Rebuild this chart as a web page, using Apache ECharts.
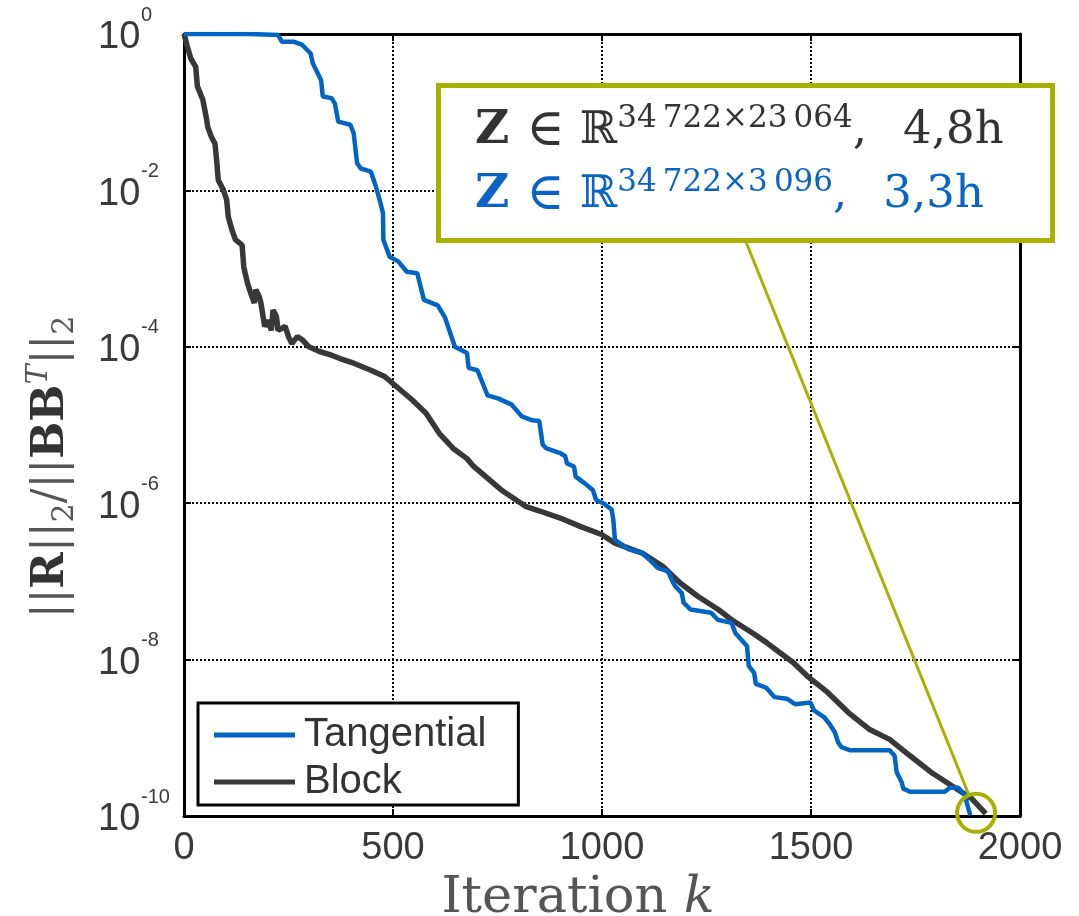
<!DOCTYPE html>
<html>
<head>
<meta charset="utf-8">
<title>Residual norm vs iteration</title>
<script src="https://cdn.jsdelivr.net/npm/echarts@6/dist/echarts.min.js"></script>
<style>
  html, body { margin: 0; padding: 0; background: #fff; }
  #main { width: 1079px; height: 916px; }
</style>
</head>
<body>
<div id="main"></div>
<script>
// iteration k, log10 of ||R||_2/||BB^T||_2
var tangentialIter = [0, 156, 158, 225, 234, 262, 283, 303, 308, 328, 332, 353, 361, 369, 398, 406, 414, 423, 447, 459,
  468, 476, 477, 492, 513, 533, 558, 574, 607, 624, 648, 677, 681, 702, 726, 751, 784, 808, 833, 850,
  858, 867, 900, 912, 916, 933, 937, 957, 978, 986, 1003, 1023, 1027, 1031, 1064, 1097, 1113, 1134, 1158, 1167,
  1175, 1191, 1195, 1212, 1261, 1277, 1310, 1319, 1347, 1351, 1364, 1368, 1393, 1413, 1442, 1462, 1499, 1507, 1532, 1544,
  1557, 1565, 1573, 1594, 1688, 1700, 1705, 1717, 1721, 1737, 1820, 1832, 1853, 1869, 1873, 1881];
var tangentialExp = [0, 0, -0.013, -0.013, -0.098, -0.098, -0.14, -0.25, -0.375, -0.59, -0.80, -0.82, -0.89, -1.12, -1.16, -1.27, -1.65, -1.72, -1.76, -1.95,
  -2.12, -2.29, -2.63, -2.85, -2.91, -3.04, -3.06, -3.40, -3.47, -3.62, -4.0, -4.08, -4.27, -4.30, -4.62, -4.66, -4.74, -4.89, -4.94, -4.95,
  -5.25, -5.30, -5.36, -5.40, -5.49, -5.53, -5.66, -5.74, -5.83, -5.96, -6.0, -6.08, -6.21, -6.47, -6.59, -6.64, -6.72, -6.83, -6.87, -6.98,
  -7.06, -7.15, -7.27, -7.36, -7.40, -7.49, -7.53, -7.66, -7.83, -8.08, -8.17, -8.31, -8.36, -8.48, -8.50, -8.57, -8.55, -8.65, -8.74, -8.82,
  -8.93, -9.06, -9.12, -9.16, -9.16, -9.23, -9.44, -9.57, -9.65, -9.69, -9.69, -9.64, -9.64, -9.74, -9.84, -9.99];

var blockIter = [0, 8, 16, 28, 32, 45, 53, 57, 65, 74, 78, 82, 94, 102, 106, 115, 123, 139, 143, 152,
  160, 168, 172, 180, 184, 193, 201, 209, 213, 221, 225, 242, 250, 258, 271, 283, 299, 324, 349, 373,
  406, 447, 480, 513, 546, 579, 611, 644, 677, 693, 759, 817, 851, 900, 949, 999, 1031, 1097, 1146, 1187,
  1229, 1278, 1310, 1360, 1393, 1425, 1458, 1491, 1540, 1590, 1639, 1688, 1737, 1787, 1836, 1885, 1918];
var blockExp = [0, -0.16, -0.31, -0.42, -0.67, -0.84, -1.06, -1.19, -1.31, -1.40, -1.61, -1.87, -1.99, -2.12, -2.34, -2.51, -2.63, -2.70, -2.98, -3.19,
  -3.32, -3.44, -3.27, -3.36, -3.44, -3.74, -3.66, -3.79, -3.53, -3.61, -3.79, -3.74, -3.87, -3.96, -3.87, -3.91, -4.0, -4.06, -4.10, -4.15,
  -4.21, -4.30, -4.38, -4.53, -4.68, -4.85, -5.11, -5.30, -5.43, -5.53, -5.83, -6.04, -6.10, -6.19, -6.30, -6.40, -6.51, -6.64, -6.81, -7.02,
  -7.19, -7.36, -7.49, -7.66, -7.78, -7.91, -8.04, -8.21, -8.42, -8.68, -8.89, -9.02, -9.23, -9.44, -9.61, -9.78, -9.97];

var seriesNames = ['Tangential', 'Block'];
var annotLines = [
  { z: 'Z', dim: '34\u2009722\u00D723\u2009064', time: '4,8h' },
  { z: 'Z', dim: '34\u2009722\u00D73\u2009096', time: '3,3h' }
];
// the circled point at the end of the runs
var circlePoint = [1895, Math.pow(10, -9.96)];

var BLUE = '#0064c4', DARK = '#383838', OLIVE = '#a8b000';

function toPairs(iter, exps) {
  return iter.map(function (k, i) { return [k, Math.pow(10, exps[i])]; });
}

var chart = echarts.init(document.getElementById('main'));

var tickFont = { fontFamily: 'Liberation Sans', color: '#3a3a3a' };
var gridDots = { color: '#000', width: 2, type: [2, 2] };

var option = {
  animation: false,
  backgroundColor: '#fff',
  grid: { left: 184, right: 59, top: 34, bottom: 100, outerBoundsMode: 'none' },
  legend: {
    data: seriesNames,
    orient: 'vertical',
    left: 198, top: 703,
    icon: 'rect',
    itemWidth: 81, itemHeight: 5, itemGap: 5,
    padding: [11, 32, 2, 16],
    borderColor: '#000', borderWidth: 3,
    backgroundColor: '#fff',
    textStyle: { fontFamily: 'Liberation Sans', fontSize: 40, color: '#333', lineHeight: 42, padding: [0, 0, 0, 4] }
  },
  xAxis: [{
    type: 'value', min: 0, max: 2000, interval: 500,
    name: '{a|Iteration }{k|k}', nameLocation: 'middle', nameGap: 43,
    nameTextStyle: {
      padding: [0, 48, 0, 0],
      rich: {
        a: { fontFamily: 'DejaVu Serif', fontSize: 51, color: '#555', lineHeight: 52 },
        k: { fontFamily: 'DejaVu Serif', fontSize: 51, fontStyle: 'italic', color: '#555', lineHeight: 52 }
      }
    },
    axisLine: { show: true, onZero: false, lineStyle: { color: '#000', width: 3 } },
    axisTick: { show: true, inside: true, length: 7, lineStyle: { color: '#000', width: 2 } },
    axisLabel: {
      fontSize: 38, margin: 14, fontFamily: tickFont.fontFamily, color: tickFont.color,
      formatter: function (v) { return String(v); }
    },
    splitLine: { show: true, lineStyle: gridDots }
  }, {
    type: 'value', min: 0, max: 2000, interval: 500, position: 'top',
    axisLine: { show: true, onZero: false, lineStyle: { color: '#000', width: 3 } },
    axisTick: { show: true, inside: true, length: 7, lineStyle: { color: '#000', width: 2 } },
    axisLabel: { show: false }, splitLine: { show: false }
  }],
  yAxis: [{
    type: 'log', logBase: 10, min: 1e-10, max: 1, interval: 2,
    name: '{n|||}{b|R}{n|||}{sub|2}{n|/||}{b|BB}{sup|T}{n|||}{sub|2}',
    nameLocation: 'middle', nameRotate: 90, nameGap: 104,
    nameTextStyle: {
      padding: [0, 84, 0, 0],
      rich: {
        n: { fontFamily: 'DejaVu Serif', fontSize: 44, color: '#555', lineHeight: 56 },
        b: { fontFamily: 'DejaVu Serif', fontSize: 44, fontWeight: 'bold', color: '#333', lineHeight: 56 },
        sub: { fontFamily: 'DejaVu Serif', fontSize: 30, color: '#555', lineHeight: 24, verticalAlign: 'bottom' },
        sup: { fontFamily: 'DejaVu Serif', fontSize: 30, fontStyle: 'italic', color: '#555', lineHeight: 30, verticalAlign: 'top' }
      }
    },
    axisLine: { show: true, onZero: false, lineStyle: { color: '#000', width: 3 } },
    axisTick: { show: true, inside: true, length: 7, lineStyle: { color: '#000', width: 2 } },
    axisLabel: {
      // "10" on the lower line, exponent on a thin upper line
      align: 'left',
      margin: 86,
      formatter: function (v) {
        var e = Math.round(Math.log(v) / Math.LN10);
        return '{sp| }{s|' + e + '}\n{b|10}';
      },
      rich: {
        sp: { width: 43, fontSize: 20, lineHeight: 8 },
        s: { fontSize: 20, lineHeight: 8, fontFamily: tickFont.fontFamily, color: tickFont.color },
        b: { fontSize: 38, lineHeight: 38, fontFamily: tickFont.fontFamily, color: tickFont.color }
      }
    },
    splitLine: { show: true, lineStyle: gridDots }
  }, {
    type: 'log', logBase: 10, min: 1e-10, max: 1, interval: 2, position: 'right',
    axisLine: { show: true, onZero: false, lineStyle: { color: '#000', width: 3 } },
    axisTick: { show: true, inside: true, length: 7, lineStyle: { color: '#000', width: 2 } },
    axisLabel: { show: false }, splitLine: { show: false }
  }],
  series: [{
    name: 'Block', type: 'line', xAxisIndex: 0, yAxisIndex: 0,
    data: toPairs(blockIter, blockExp),
    showSymbol: false, symbol: 'none', z: 3,
    itemStyle: { color: DARK },
    lineStyle: { color: DARK, width: 5.5 }
  }, {
    name: 'Tangential', type: 'line', xAxisIndex: 0, yAxisIndex: 0,
    data: toPairs(tangentialIter, tangentialExp),
    showSymbol: false, symbol: 'none', z: 4,
    itemStyle: { color: BLUE },
    lineStyle: { color: BLUE, width: 4.5 }
  }]
};

chart.setOption(option);

// annotation box + pointer line + circle
var c = chart.convertToPixel({ gridIndex: 0 }, circlePoint);
var r = 19;
var p0 = [746, 242];
var dx = c[0] - p0[0], dy = c[1] - p0[1], len = Math.sqrt(dx * dx + dy * dy);
var p1 = [c[0] - dx / len * r, c[1] - dy / len * r];

function annotRich(color) {
  var serif = 'DejaVu Serif';
  return {
    z: { fontFamily: serif, fontSize: 47, fontWeight: 'bold', fill: color, lineHeight: 56 },
    g1: { width: 17, fontSize: 20, lineHeight: 56 },
    g2: { width: 15, fontSize: 20, lineHeight: 56 },
    g3: { width: 36, fontSize: 20, lineHeight: 56 },
    e: { fontFamily: serif, fontSize: 52, fill: color, lineHeight: 56 },
    m: { fontFamily: serif, fontSize: 45, fill: color, lineHeight: 56 },
    p: { fontFamily: serif, fontSize: 31, fill: color, lineHeight: 32, verticalAlign: 'top' }
  };
}
function annotText(l) {
  return '{z|' + l.z + '}{g1| }{e|\u2208}{g2| }{m|\u211D}{p|' + l.dim + '}{m|,}{g3| }{m|' + l.time + '}';
}

chart.setOption({
  graphic: [
    { type: 'line', z: 100, shape: { x1: p0[0], y1: p0[1], x2: p1[0], y2: p1[1] },
      style: { stroke: OLIVE, lineWidth: 3 } },
    { type: 'circle', z: 100, shape: { cx: c[0], cy: c[1], r: r },
      style: { stroke: OLIVE, lineWidth: 4, fill: null } },
    { type: 'rect', z: 100, shape: { x: 438.5, y: 85.5, width: 614, height: 155 },
      style: { stroke: OLIVE, lineWidth: 5, fill: '#fff' } },
    { type: 'text', z: 101, x: 475, y: 131,
      style: { text: annotText(annotLines[0]), rich: annotRich('#333'), verticalAlign: 'middle' } },
    { type: 'text', z: 101, x: 475, y: 195,
      style: { text: annotText(annotLines[1]), rich: annotRich('#0a64c4'), verticalAlign: 'middle' } }
  ]
});
</script>
</body>
</html>
